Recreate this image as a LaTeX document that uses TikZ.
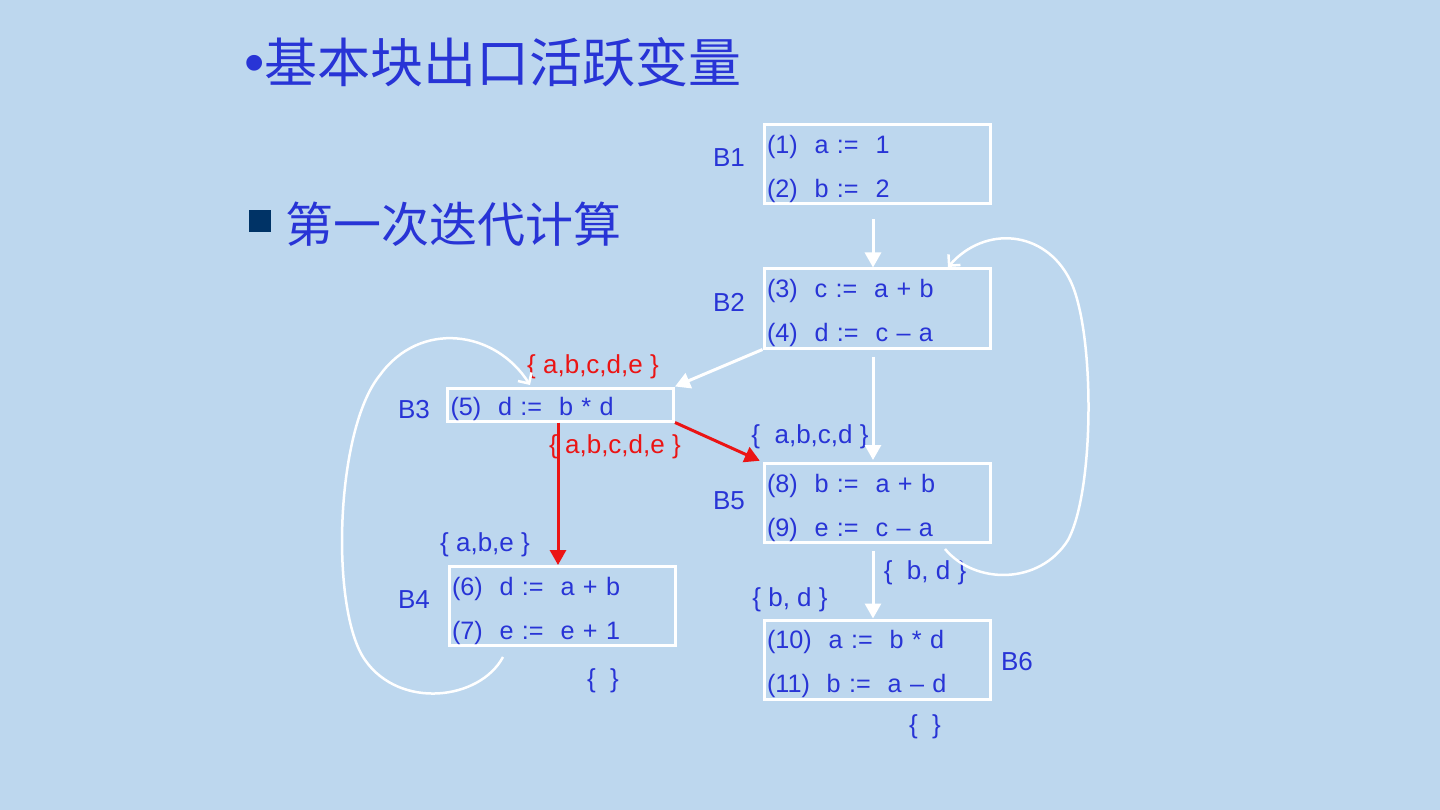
\documentclass[tikz,border=0pt]{standalone}
\usepackage{fontspec}
\setmainfont{Liberation Sans}
\newfontfamily\cjk{Noto Sans CJK SC}
\usetikzlibrary{arrows.meta,calc}
\definecolor{bgblue}{RGB}{189,215,238}
\definecolor{txtblue}{RGB}{40,52,214}
\definecolor{navy}{RGB}{0,51,102}
\definecolor{setred}{RGB}{235,20,20}
\newcommand{\tstrut}{\rule{0pt}{28pt}}

\begin{document}
\begin{tikzpicture}[x=1pt,y=-1pt,
    blk/.style={draw=white,line width=3pt,minimum width=226pt,minimum height=79pt,
        inner xsep=3pt,inner ysep=0pt,text width=220pt,align=left,text=txtblue,
        font=\fontsize{25.2}{44}\selectfont},
    lbl/.style={text=txtblue,font=\fontsize{26}{30}\selectfont},
    rlbl/.style={text=setred,font=\fontsize{26}{30}\selectfont},
    edge/.style={white,line width=3pt,-{Triangle[length=15pt,width=16pt]}},
    redge/.style={setred,line width=3pt,-{Triangle[length=15pt,width=16pt]}},
    back/.style={white,line width=2.5pt,-{Straight Barb[length=8pt,width=16pt]}}]
        \fill[bgblue](0,0)rectangle(1440,810);
        % 标题
        \node[anchor=west,inner sep=0,text=txtblue,font=\cjk\fontsize{53}{60}\selectfont](title)at(244,62){{\rmfamily\fontsize{58}{60}\selectfont •}基本块出口活跃变量};
        \node[fill=navy,minimum size=22pt,inner sep=0](sq)at(260,221){};
        \node[anchor=west,inner sep=0,text=txtblue,font=\cjk\fontsize{48}{60}\selectfont](sub)at(285,224){第一次迭代计算};
        % 基本块
        \node[blk](b1)at(877,164.5){\tstrut(1)~~a :=~~1\\(2)~~b :=~~2};
        \node[blk](b2)at(877,308.5){\tstrut(3)~~c :=~~a + b\\(4)~~d :=~~c – a};
        \node[blk,minimum height=33pt](b3)at(560.5,404.5){\rule{0pt}{27pt}(5)~~d :=~~b * d};
        \node[blk](b5)at(877,503){\tstrut(8)~~b :=~~a + b\\(9)~~e :=~~c – a};
        \node[blk](b4)at(562,606){\tstrut(6)~~d :=~~a + b\\(7)~~e :=~~e + 1};
        \node[blk](b6)at(877,659.5){\tstrut(10)~~a :=~~b * d\\(11)~~b :=~~a – d};
        \node[lbl](lb1)at(729,158){B1};
        \node[lbl](lb2)at(729,302){B2};
        \node[lbl](lb3)at(414,410){B3};
        \node[lbl](lb5)at(729,501){B5};
        \node[lbl](lb4)at(414,600){B4};
        \node[lbl](lb6)at(1017,662){B6};
        % 活跃变量集合
        \node[rlbl](in3)at(593,367){\{ a,b,c,d,e \}};
        \node[rlbl](out3)at(615,447){\{ a,b,c,d,e \}};
        \node[lbl](in5)at(810,437){\{~~a,b,c,d \}};
        \node[lbl](in4)at(485,545){\{ a,b,e \}};
        \node[lbl](out5)at(925,573){\{~~b, d \}};
        \node[lbl](in6)at(790,600){\{ b, d \}};
        \node[lbl](out4)at(603,681){\{~~\}};
        \node[lbl](out6)at(925,727){\{~~\}};
        % 连线
        \draw[edge,shorten <=14pt]([xshift=-4pt]b1.south)to([xshift=-4pt]b2.north);
        \draw[edge,shorten <=7pt,shorten >=2pt]([xshift=-4pt]b2.south)to([xshift=-4pt]b5.north);
        \draw[edge,shorten <=7pt]([xshift=-4pt]b5.south)to([xshift=-4pt]b6.north);
        \draw[edge](b2.south west)to(b3.north east);
        \draw[redge]([xshift=-2.5pt]b3.south)to([xshift=-2.5pt]b3.south |- b4.north);
        \draw[redge,shorten >=3pt](b3.south east)to(b5.north west);
        % 回边
        \coordinate(l5)at(945,549);
        \coordinate(l2)at(948,267);
        \draw[back](l5) .. controls (975,585) and (1040,585) .. (1068,540)
            .. controls (1095,490) and (1095,330) .. (1070,280)
            .. controls (1045,230) and (985,225) .. (l2);
        \coordinate(l4)at(503,657);
        \coordinate(l3)at(530,385);
        \draw[back](l4) .. controls (480,700) and (400,710) .. (365,660)
            .. controls (330,610) and (335,430) .. (380,375)
            .. controls (420,320) and (495,330) .. (l3);
    \end{tikzpicture}
\end{document}
